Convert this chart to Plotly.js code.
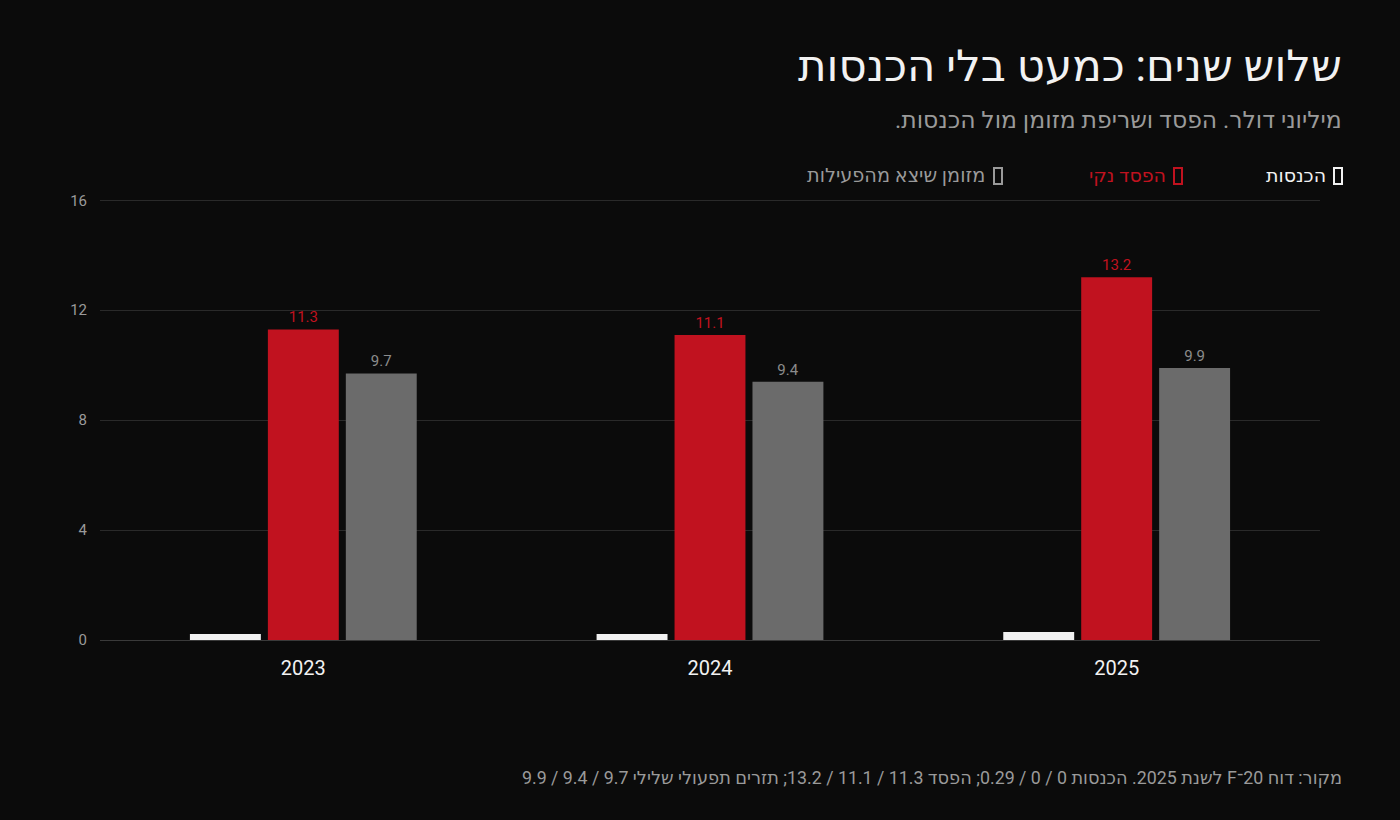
<!DOCTYPE html>
<html>
<head>
<meta charset="utf-8">
<script src="https://cdn.plot.ly/plotly-3.0.1.min.js"></script>
<style>
  html, body { margin: 0; padding: 0; background: #0b0b0b; }
  #chart { width: 1400px; height: 820px; }
</style>
</head>
<body>
<div id="chart"></div>
<script>
// data
var years = ['2023', '2024', '2025'];
var revenue = [0.22, 0.22, 0.29];
var netLoss = [11.3, 11.1, 13.2];
var cashBurn = [9.7, 9.4, 9.9];
var yTicks = [0, 4, 8, 12, 16];

var RLE = '\u202B', PDF = '\u202C';
function rtl(s) { return RLE + s + PDF; }

var font = 'Roboto, "DejaVu Sans", sans-serif';
var red = '#c1121f', grey = '#6b6b6b', white = '#f2f2f2';

var traces = [
  {
    type: 'bar', name: 'הכנסות', x: years, y: revenue,
    marker: { color: white }, hoverinfo: 'skip'
  },
  {
    type: 'bar', name: 'הפסד נקי', x: years, y: netLoss,
    marker: { color: red },
    text: netLoss.map(function (v) { return v.toFixed(1); }),
    textposition: 'outside', cliponaxis: false,
    textfont: { color: red, size: 15, family: font }
  },
  {
    type: 'bar', name: 'מזומן שיצא מהפעילות', x: years, y: cashBurn,
    marker: { color: grey },
    text: cashBurn.map(function (v) { return v.toFixed(1); }),
    textposition: 'outside', cliponaxis: false,
    textfont: { color: '#8c8c8c', size: 15, family: font }
  }
];

// plot area: x 100..1320, y 192..640
function px(x) { return (x - 100) / 1220; }
function py(y) { return (640 - y) / 448; }

var annotations = [
  { text: rtl('שלוש שנים: כמעט בלי הכנסות'), x: px(1344), y: py(66),
    font: { size: 43.5, color: '#f2f2f2' } },
  { text: rtl('מיליוני דולר. הפסד ושריפת מזומן מול הכנסות.'), x: px(1344), y: py(120),
    font: { size: 23.5, color: '#9a9a9a' } },
  { text: rtl('הכנסות'), x: px(1328), y: py(176),
    font: { size: 19, color: white } },
  { text: rtl('הפסד נקי'), x: px(1168), y: py(176),
    font: { size: 19, color: red } },
  { text: rtl('מזומן שיצא מהפעילות'), x: px(987), y: py(176),
    font: { size: 19.3, color: '#9a9a9a' } },
  { text: rtl('מקור: דוח 20־F לשנת 2025. הכנסות 0 / 0 / 0.29; הפסד 11.3 / 11.1 / 13.2; תזרים תפעולי שלילי 9.7 / 9.4 / 9.9'),
    x: px(1344), y: py(777),
    font: { size: 17.8, color: '#9a9a9a' } }
].map(function (a) {
  a.xref = 'paper'; a.yref = 'paper';
  a.xanchor = 'right'; a.yanchor = 'middle';
  a.showarrow = false;
  return a;
});

// legend swatches (outlined boxes right of each label)
var swatches = [[1342, white], [1182, red], [1002, '#9a9a9a']].map(function (s) {
  return {
    type: 'rect', xref: 'paper', yref: 'paper',
    x0: px(s[0] - 8), x1: px(s[0]), y0: py(184), y1: py(168),
    line: { color: s[1], width: 2 }, fillcolor: 'rgba(0,0,0,0)'
  };
});

var layout = {
  width: 1400, height: 820,
  paper_bgcolor: '#0b0b0b', plot_bgcolor: '#0b0b0b',
  font: { family: font, color: '#9a9a9a' },
  margin: { l: 100, r: 80, t: 192, b: 180 },
  barmode: 'group', bargap: 0.425, bargroupgap: 0.09,
  showlegend: false,
  xaxis: {
    type: 'category', showgrid: false, zeroline: false, showline: false,
    ticks: '', ticklabelstandoff: 14,
    tickfont: { size: 20, color: '#f2f2f2' }
  },
  yaxis: {
    range: [0, 16.3], tickvals: yTicks, ticktext: yTicks.map(String),
    showgrid: true, gridcolor: '#2a2a2a', gridwidth: 1,
    zeroline: true, zerolinecolor: '#3a3a3a', zerolinewidth: 1,
    showline: false, ticks: '', ticklabelstandoff: 12,
    tickfont: { size: 15, color: '#9a9a9a' }
  },
  shapes: swatches,
  annotations: annotations
};

Plotly.newPlot('chart', traces, layout, { displayModeBar: false, staticPlot: true });
</script>
</body>
</html>
